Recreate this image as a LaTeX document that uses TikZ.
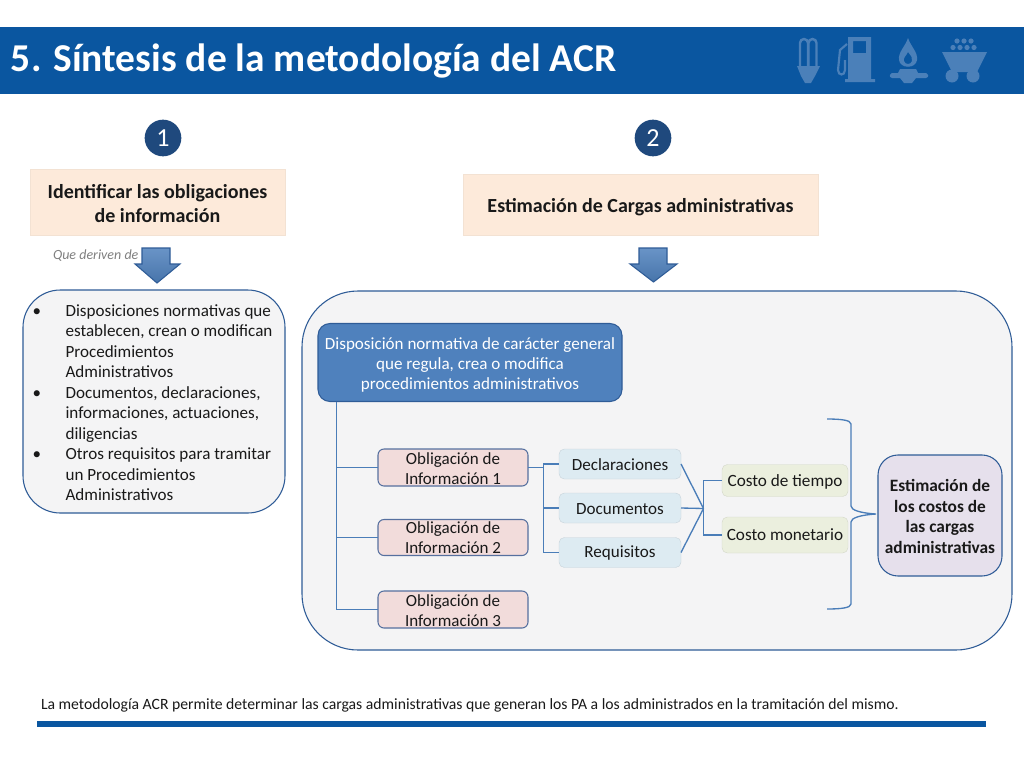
\documentclass[tikz,border=0pt]{standalone}
\usepackage{fontspec}
\setmainfont{Carlito}
\usepackage{array}
\newcommand{\pxf}[1]{\fontsize{#1}{#1}\selectfont}
\newcommand{\topgap}[1]{\rule{0pt}{#1em}}
\definecolor{barblue}{HTML}{0A56A0}
\definecolor{iconblue}{HTML}{4B80B9}
\definecolor{badge}{HTML}{1F497D}
\definecolor{peach}{HTML}{FDEADA}
\definecolor{peachline}{HTML}{F3E2D3}
\definecolor{edgeblue}{HTML}{4A7DB8}
\definecolor{panelline}{HTML}{2F5C97}
\definecolor{panelfill}{HTML}{F4F4F5}
\definecolor{dispfill}{HTML}{4F81BD}
\definecolor{oblfill}{HTML}{F2DCDB}
\definecolor{oblline}{HTML}{56709F}
\definecolor{docfill}{HTML}{DDEBF2}
\definecolor{costfill}{HTML}{EBEFDE}
\definecolor{estfill}{HTML}{E6E0EC}
\tikzset{
  x=0.75pt,y=-0.75pt,
  every node/.style={inner sep=0pt,outer sep=0pt,align=center,text=black!90},
  badgenode/.style={circle,fill=badge,minimum size=27.5pt,text=white,font=\pxf{19.5}},
  headbox/.style={draw=peachline,fill=peach,line width=.6pt,font=\bfseries\pxf{15}},
  bigpanel/.style={draw=panelline,fill=panelfill,line width=.8pt},
  oblbox/.style={draw=oblline,fill=oblfill,line width=.8pt,rounded corners=4.5pt,minimum width=112.5pt,font=\pxf{12.75}},
  docbox/.style={fill=docfill,draw=docfill!90!black,line width=.3pt,rounded corners=4pt,minimum width=91.5pt,font=\pxf{12.8}},
  costbox/.style={fill=costfill,draw=costfill!90!black,line width=.3pt,rounded corners=4pt,minimum width=94.5pt,font=\pxf{12.9}},
  link/.style={draw=edgeblue,line width=1.3pt},
  blockarrow/.style={draw=panelline,line width=.8pt,top color=dispfill!85!white,bottom color=dispfill!90!black},
}
\begin{document}
\begin{tikzpicture}
\useasboundingbox[fill=white] (0,0) rectangle (1024,768);
% header
\fill[barblue] (0,27) rectangle (1024,94);
\node[anchor=west,text=white,font=\bfseries\pxf{29.6}] (title) at (11,61) {5. Síntesis de la metodología del ACR};
% icons
\begin{scope}
  % bulb
  \draw[iconblue,line width=1.8pt] (800,66) -- (800,43) arc[start angle=180,end angle=360,radius=4] -- (808,66);
  \draw[iconblue,line width=1.8pt] (808.5,66) -- (808.5,43) arc[start angle=180,end angle=360,radius=4] -- (816.5,66);
  \fill[iconblue] (797,66) -- (820,66) -- (815,76) -- (811,83) -- (805,83) -- (801,76) -- cycle;
  % pump
  \fill[iconblue,even odd rule] (848,79) -- (848,37) -- (871,37) -- (871,79) -- (875,79) -- (875,82) -- (845,82) -- (845,79) -- cycle (853,41) rectangle (866,53);
  \draw[iconblue,line width=1.6pt] (847,44) -- (840,50) -- (838,70) .. controls (838,76) and (845,76) .. (845,70) -- (845,60);
  % flame
  \fill[iconblue,even odd rule] (908,38) .. controls (911,47) and (918,52) .. (917,60) .. controls (916,69) and (900,69) .. (899,60) .. controls (898,52) and (905,47) .. (908,38) -- cycle
    (908,52) .. controls (911,56) and (913,58) .. (912,61) .. controls (911,65) and (905,65) .. (904,61) .. controls (903,58) and (906,56) .. (908,52) -- cycle;
  \fill[iconblue] (900,69) -- (916,69) -- (918,73) -- (926,73) .. controls (929,75) and (929,77) .. (926,78) -- (916,78) -- (912,83) -- (904,83) -- (900,78) -- (892,78) .. controls (889,77) and (889,75) .. (892,73) -- (898,73) -- cycle;
  % cart
  \fill[iconblue] (942,52) -- (987,52) -- (977,72) -- (952,72) -- cycle;
  \fill[iconblue] (952,76) circle[radius=6.5];
  \fill[iconblue] (973,76) circle[radius=6.5];
  \foreach \cx in {957,964,971} {\fill[iconblue] (\cx,41) circle[radius=2.6];}
  \foreach \cx in {953,960,967,974} {\fill[iconblue] (\cx,47.5) circle[radius=2.6];}
\end{scope}
% badges
\node[badgenode] (b1) at (163,138) {1};
\node[badgenode] (b2) at (653,138) {2};
% heading boxes
\node[headbox,minimum width=191.25pt,minimum height=49.5pt] (h1) at (157.5,202) {\topgap{.88}Identificar las obligaciones\\[3pt]de información};
\node[headbox,minimum width=266.25pt,minimum height=45.75pt] (h2) at (640.5,204.5) {\topgap{1.0}Estimación de Cargas administrativas};
% arrows
\node[text=black!50,font=\itshape\pxf{10.5},anchor=west] (que) at (53,256) {Que deriven de};
\path[blockarrow] (142,248) -- (170,248) -- (170,264) -- (180,264) -- (157,283) -- (135,264) -- (142,264) -- cycle;
\path[blockarrow] (639,248) -- (667,248) -- (667,264) -- (677,264) -- (653.5,282) -- (630,264) -- (639,264) -- cycle;
% left list
\node[bigpanel,rounded corners=28pt,minimum width=196.5pt,minimum height=167.25pt] (listbox) at (154,401.5) {};
\node[font=\pxf{12.8},anchor=center,align=left] (listtext) at (152.5,404) {%
  \setlength{\tabcolsep}{0pt}\renewcommand{\arraystretch}{1}%
  \begin{tabular}{@{}p{24.75pt}@{}l@{}}
  •& Disposiciones normativas que\rule[-4.5pt]{0pt}{15.375pt}\\
   & establecen, crean o modifican\rule[-4.5pt]{0pt}{15.375pt}\\
   & Procedimientos\rule[-4.5pt]{0pt}{15.375pt}\\
   & Administrativos\rule[-4.5pt]{0pt}{15.375pt}\\
  •& Documentos, declaraciones,\rule[-4.5pt]{0pt}{15.375pt}\\
   & informaciones, actuaciones,\rule[-4.5pt]{0pt}{15.375pt}\\
   & diligencias\rule[-4.5pt]{0pt}{15.375pt}\\
  •& Otros requisitos para tramitar\rule[-4.5pt]{0pt}{15.375pt}\\
   & un Procedimientos\rule[-4.5pt]{0pt}{15.375pt}\\
   & Administrativos\rule[-4.5pt]{0pt}{15.375pt}
  \end{tabular}};
% right panel
\node[bigpanel,rounded corners=42pt,minimum width=532.5pt,minimum height=269.25pt] (panel) at (657,470.5) {};
\node[draw=panelline,fill=dispfill,line width=.8pt,rounded corners=9pt,minimum width=228pt,minimum height=58.5pt,text=white,font=\pxf{12.8}] (disp) at (470,362.5) {\topgap{.98}Disposición normativa de carácter general\\[2.4pt]que regula, crea o modifica\\[2.4pt]procedimientos administrativos};
% obligations
\node[oblbox,minimum height=27.75pt] (o1) at (453,467.5) {\topgap{.78}Obligación de\\[2.3pt]Información 1};
\node[oblbox,minimum height=27pt] (o2) at (453,537.5) {\topgap{.75}Obligación de\\[2.3pt]Información 2};
\node[oblbox,minimum height=27.75pt] (o3) at (453,609.5) {\topgap{.78}Obligación de\\[2.3pt]Información 3};
% docs
\node[docbox,minimum height=22.5pt] (d1) at (620,464) {\topgap{.8}Declaraciones};
\node[docbox,minimum height=22.5pt] (d2) at (620,508) {\topgap{.8}Documentos};
\node[docbox,minimum height=22.5pt] (d3) at (620,552.5) {\topgap{.8}Requisitos};
% costs
\node[costbox,minimum height=24pt] (c1) at (785,480.5) {\topgap{.8}Costo de tiempo};
\node[costbox,minimum height=27pt] (c2) at (785,535) {Costo monetario};
% estimate
\node[draw=panelline,fill=estfill,line width=.8pt,rounded corners=15pt,minimum width=93pt,minimum height=90.75pt,font=\bfseries\pxf{13}] (est) at (940,515.5) {\topgap{.8}Estimación de\\[2.4pt]los costos de\\[2.4pt]las cargas\\[2.4pt]administrativas};
% connectors
\coordinate (spine) at (336.5,401);
\draw[link] (spine |- disp.south) -- (spine |- o3.west) -- (o3.west);
\draw[link] (spine |- o1.west) -- (o1.west);
\draw[link] (spine |- o2.west) -- (o2.west);
\coordinate (trunk) at (543.5,467.5);
\draw[link] (o1.east) -- (trunk);
\draw[link] (d1.west) -- (trunk |- d1.west) -- (trunk |- d3.west) -- (d3.west);
\draw[link] (trunk |- d2.west) -- (d2.west);
\coordinate (join) at (703.5,508.5);
\draw[link,line width=1pt] (d1.east) -- (join);
\draw[link,line width=1pt] (d2.east) -- (join);
\draw[link,line width=1pt] (d3.east) -- (join);
\draw[link] (c1.west) -- (join |- c1.west) -- (join |- c2.west) -- (c2.west);
% brace
\coordinate (bracetip) at (876,514);
\draw[link,line width=1pt] (827,419) .. controls (840,419) and (851,420) .. (851,424) -- (851,506) .. controls (851,510) and (860,513) .. (bracetip) .. controls (860,515) and (851,518) .. (851,522) -- (851,604) .. controls (851,608) and (840,609) .. (827,609);
% footer
\node[anchor=west,font=\pxf{11.77}] (foot) at (41,705) {La metodología ACR permite determinar las cargas administrativas que generan los PA a los administrados en la tramitación del mismo.};
\fill[barblue] (37,721) rectangle (986,726.5);
\end{tikzpicture}
\end{document}
